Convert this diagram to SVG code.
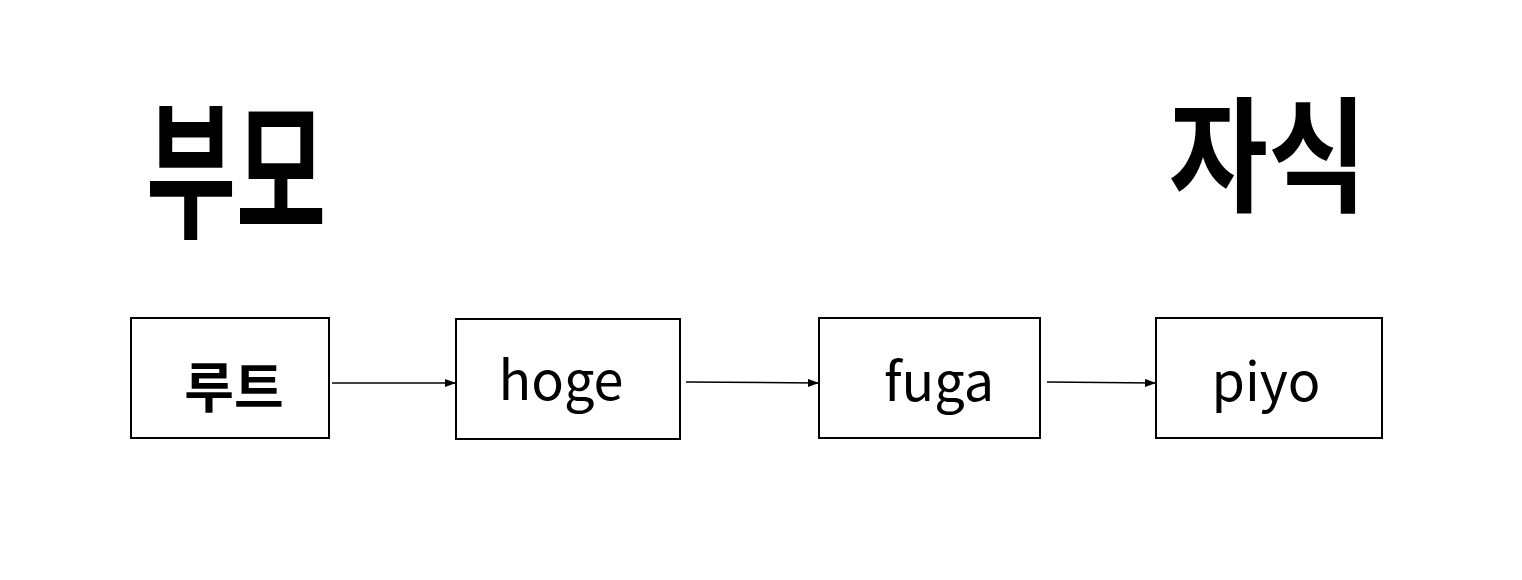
<svg xmlns="http://www.w3.org/2000/svg" width="1522" height="580" viewBox="0 0 1522 580">
<defs>
<marker id="ah" markerWidth="11" markerHeight="8" refX="10" refY="4" orient="auto" markerUnits="userSpaceOnUse">
<path d="M0,0 L11,4 L0,8 z" fill="#000"/>
</marker>
<style>
.box{fill:#fff;stroke:#000;stroke-width:2}
.lbl{font-family:"Noto Sans CJK KR","Noto Sans",sans-serif;font-size:54px;fill:#000;text-anchor:middle;dominant-baseline:central}
.big{font-family:"Noto Sans CJK KR",sans-serif;font-size:96px;font-weight:bold;fill:#000;text-anchor:middle;dominant-baseline:central}
.edge{stroke:#000;stroke-width:1.5;fill:none;marker-end:url(#ah)}
</style>
</defs>
<rect width="1522" height="580" fill="#fff"/>
<g id="title-parent"><text class="big" transform="translate(236,161) scale(1.02,1.55)">부모</text></g>
<g id="title-child"><text class="big" transform="translate(1268,148) scale(1.12,1.3)">자식</text></g>
<g id="connectors">
<line class="edge" x1="332" y1="383" x2="455" y2="383"/>
<line class="edge" x1="686" y1="382" x2="818" y2="383"/>
<line class="edge" x1="1047" y1="382" x2="1155" y2="383"/>
</g>
<g id="node-root"><rect class="box" x="131" y="318" width="198" height="120"/><text class="lbl" x="234" y="384" font-weight="bold">루트</text></g>
<g id="node-hoge"><rect class="box" x="456" y="319" width="224" height="120"/><text class="lbl" x="561" y="376">hoge</text></g>
<g id="node-fuga"><rect class="box" x="819" y="318" width="221" height="120"/><text class="lbl" x="939" y="377">fuga</text></g>
<g id="node-piyo"><rect class="box" x="1156" y="318" width="226" height="120"/><text class="lbl" x="1266" y="377">piyo</text></g>
</svg>
